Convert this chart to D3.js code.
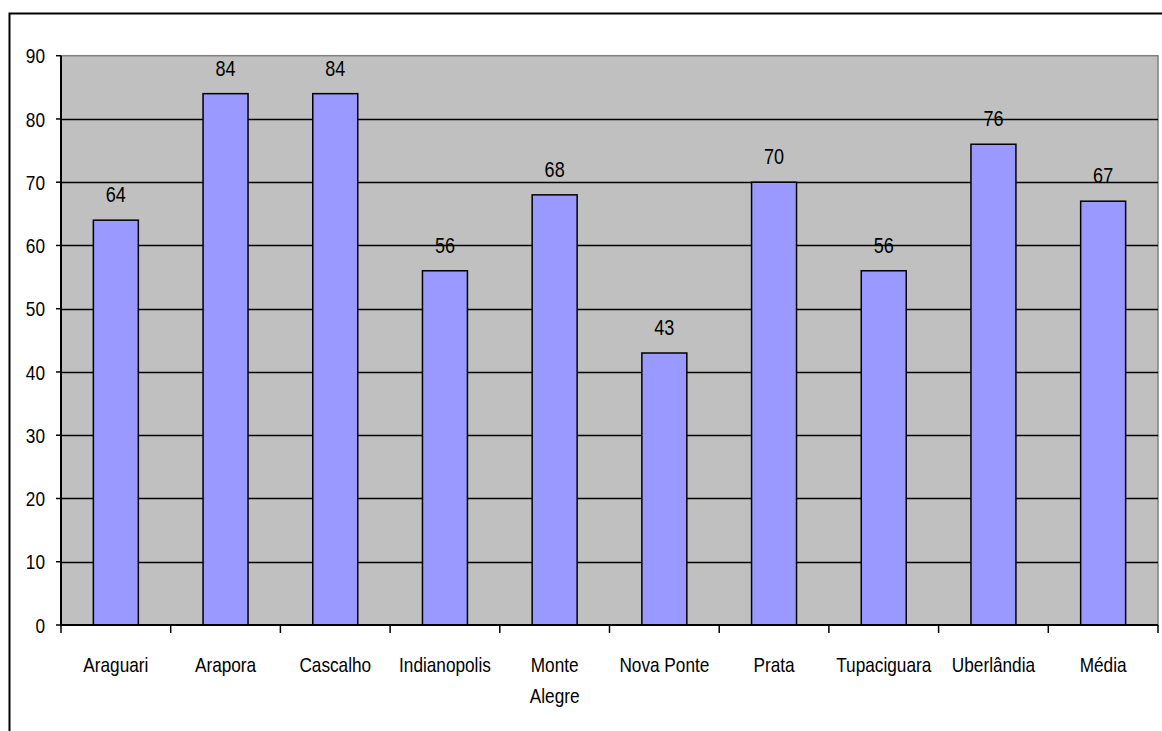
<!DOCTYPE html>
<html>
<head>
<meta charset="utf-8">
<script src="https://cdn.jsdelivr.net/npm/d3@7"></script>
<style>
  body { margin: 0; background: #fff; }
  text { font-family: "Liberation Sans", Arial, sans-serif; fill: #000; }
</style>
</head>
<body>
<div id="container"></div>
<script>
var width = 1162,
    height = 731;

// data
var cities = ["Araguari", "Arapora", "Cascalho", "Indianopolis", "Monte Alegre",
              "Nova Ponte", "Prata", "Tupaciguara", "Uberlândia", "Média"];
var values = [64, 84, 84, 56, 68, 43, 70, 56, 76, 67];
var yTicks = [0, 10, 20, 30, 40, 50, 60, 70, 80, 90];

var plotLeft = 61, plotRight = 1158, plotTop = 55.7, plotBottom = 625;
var narrow = " scale(0.82,1)"; // fake Arial Narrow

var svg = d3.select("#container").append("svg")
  .attr("width", width)
  .attr("height", height);

// outer chart border (top + left only visible)
svg.append("path")
  .attr("d", "M9.5," + height + " V13.5 H" + width)
  .attr("fill", "none")
  .attr("stroke", "#000")
  .attr("stroke-width", 2);

var x = d3.scaleBand().domain(cities).range([plotLeft, plotRight]).padding(0);
var y = d3.scaleLinear().domain([0, 90]).range([plotBottom, plotTop]);

// plot area
svg.append("rect")
  .attr("x", plotLeft).attr("y", plotTop)
  .attr("width", plotRight - plotLeft).attr("height", plotBottom - plotTop)
  .attr("fill", "#c0c0c0")
  .attr("stroke", "#808080")
  .attr("stroke-width", 1.5);

// gridlines
svg.append("g")
  .selectAll("line")
  .data(yTicks.filter(function(d) { return d > 0 && d < 90; }))
  .enter().append("line")
  .attr("x1", plotLeft).attr("x2", plotRight)
  .attr("y1", function(d) { return Math.round(y(d)) + 0.5; })
  .attr("y2", function(d) { return Math.round(y(d)) + 0.5; })
  .attr("stroke", "#000")
  .attr("stroke-width", 1.3);

// bars
var bw = x.bandwidth() * 0.41;
svg.append("g")
  .selectAll("rect")
  .data(values)
  .enter().append("rect")
  .attr("x", function(d, i) { return x(cities[i]) + (x.bandwidth() - bw) / 2; })
  .attr("y", function(d) { return y(d); })
  .attr("width", bw)
  .attr("height", function(d) { return plotBottom - y(d); })
  .attr("fill", "#9999ff")
  .attr("stroke", "#000")
  .attr("stroke-width", 1.5);

// value labels
svg.append("g")
  .selectAll("text")
  .data(values)
  .enter().append("text")
  .attr("transform", function(d, i) {
    return "translate(" + (x(cities[i]) + x.bandwidth() / 2) + "," + (y(d) - 18) + ")" + narrow;
  })
  .attr("text-anchor", "middle")
  .style("font-size", "22px")
  .text(function(d) { return d; });

// y axis
var gy = svg.append("g");
gy.append("line")
  .attr("x1", plotLeft).attr("x2", plotLeft)
  .attr("y1", plotTop).attr("y2", plotBottom)
  .attr("stroke", "#000").attr("stroke-width", 2);
gy.selectAll("line.tk")
  .data(yTicks)
  .enter().append("line")
  .attr("class", "tk")
  .attr("x1", plotLeft - 5).attr("x2", plotLeft)
  .attr("y1", function(d) { return y(d); })
  .attr("y2", function(d) { return y(d); })
  .attr("stroke", "#000").attr("stroke-width", 1.5);
gy.selectAll("text")
  .data(yTicks)
  .enter().append("text")
  .attr("transform", function(d) { return "translate(45," + y(d) + ")" + narrow; })
  .attr("dy", "0.36em")
  .attr("text-anchor", "end")
  .style("font-size", "21px")
  .text(function(d) { return d; });

// x axis: ticks on band edges
var gx = svg.append("g");
gx.append("line")
  .attr("x1", plotLeft).attr("x2", plotRight)
  .attr("y1", plotBottom).attr("y2", plotBottom)
  .attr("stroke", "#000").attr("stroke-width", 2);
gx.selectAll("line.tk")
  .data(cities.concat(["end"]))
  .enter().append("line")
  .attr("class", "tk")
  .attr("x1", function(d, i) { return plotLeft + i * x.step(); })
  .attr("x2", function(d, i) { return plotLeft + i * x.step(); })
  .attr("y1", plotBottom).attr("y2", plotBottom + 8)
  .attr("stroke", "#000").attr("stroke-width", 1.5);

var lab = gx.selectAll("text.cat")
  .data(cities)
  .enter().append("text")
  .attr("class", "cat")
  .attr("transform", function(d) { return "translate(" + (x(d) + x.bandwidth() / 2) + ",672)" + narrow; })
  .attr("text-anchor", "middle")
  .style("font-size", "21px");

lab.each(function(d) {
  var words = d === "Monte Alegre" ? ["Monte", "Alegre"] : [d];
  var t = d3.select(this);
  words.forEach(function(w, i) {
    t.append("tspan")
      .attr("x", 0)
      .attr("dy", i === 0 ? 0 : 31)
      .text(w);
  });
});
</script>
</body>
</html>
